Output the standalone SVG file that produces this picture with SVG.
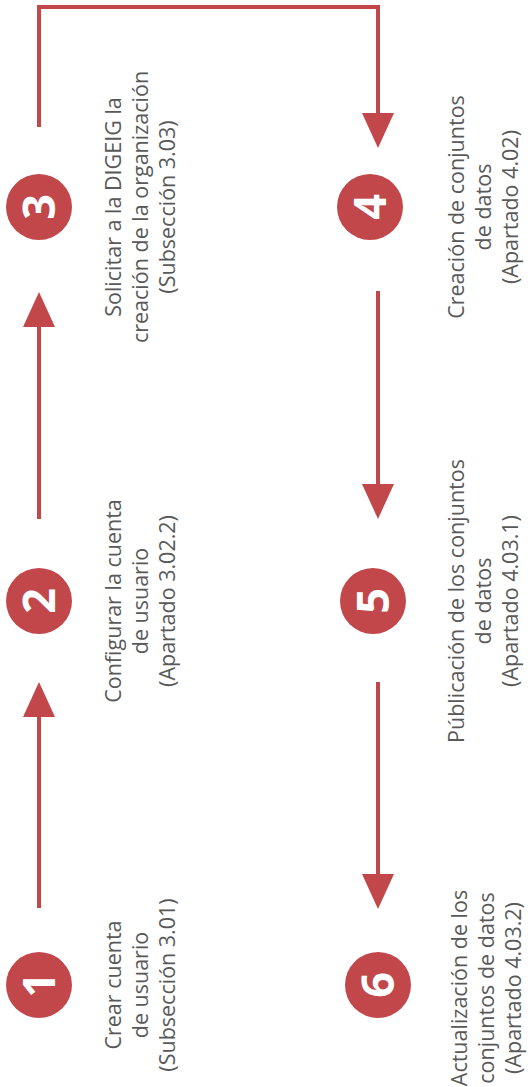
<svg xmlns="http://www.w3.org/2000/svg" width="530" height="1087" viewBox="0 0 530 1087">
<style>
.c{fill:#C1474B}
.d{fill:#fff;font-family:"Open Sans","Liberation Sans",sans-serif;font-weight:700;font-size:45px;text-anchor:middle}
.t{fill:#595959;font-family:"Open Sans","Liberation Sans",sans-serif;font-size:21.5px;text-anchor:middle}
.l{fill:none;stroke:#C1474B;stroke-width:4;stroke-linejoin:miter}
</style>
<defs>
<marker id="ah" markerUnits="userSpaceOnUse" markerWidth="36" markerHeight="32" refX="0" refY="16" orient="auto" overflow="visible">
<path d="M0,0 L35,16 L0,32 Z" fill="#C1474B"/>
</marker>
</defs>
<rect width="530" height="1087" fill="#fff"/>
<g id="connectors">
<path class="l" d="M39,908 V717" marker-end="url(#ah)"/>
<path class="l" d="M39,519 V327" marker-end="url(#ah)"/>
<path class="l" d="M39,127 V7 H378 V113" marker-end="url(#ah)"/>
<path class="l" d="M378,291 V484" marker-end="url(#ah)"/>
<path class="l" d="M378,682 V874" marker-end="url(#ah)"/>
</g>
<g id="n1">
<circle class="c" cx="39" cy="985" r="33"/>
<text class="d" transform="translate(39,985) rotate(-90)" y="16">1</text>
<text class="t" transform="translate(0,985) rotate(-90)"><tspan x="0" y="121">Crear cuenta</tspan><tspan x="0" y="148">de usuario</tspan><tspan x="0" y="175">(Subsección 3.01)</tspan></text>
</g>
<g id="n2">
<circle class="c" cx="39" cy="601" r="33"/>
<text class="d" transform="translate(39,601) rotate(-90)" y="16">2</text>
<text class="t" transform="translate(0,601) rotate(-90)"><tspan x="0" y="121">Configurar la cuenta</tspan><tspan x="0" y="148">de usuario</tspan><tspan x="0" y="175">(Apartado 3.02.2)</tspan></text>
</g>
<g id="n3">
<circle class="c" cx="39" cy="207" r="33"/>
<text class="d" transform="translate(39,207) rotate(-90)" y="16">3</text>
<text class="t" transform="translate(0,207) rotate(-90)"><tspan x="0" y="121">Solicitar a la DIGEIG la</tspan><tspan x="0" y="148">creación de la organización</tspan><tspan x="0" y="175">(Subsección 3.03)</tspan></text>
</g>
<g id="n4">
<circle class="c" cx="370" cy="207" r="33"/>
<text class="d" transform="translate(370,207) rotate(-90)" y="16">4</text>
<text class="t" transform="translate(0,207) rotate(-90)"><tspan x="0" y="464">Creación de conjuntos</tspan><tspan x="0" y="491">de datos</tspan><tspan x="0" y="518">(Apartado 4.02)</tspan></text>
</g>
<g id="n5">
<circle class="c" cx="373" cy="601" r="33"/>
<text class="d" transform="translate(373,601) rotate(-90)" y="16">5</text>
<text class="t" transform="translate(0,601) rotate(-90)"><tspan x="0" y="464">Públicación de los conjuntos</tspan><tspan x="0" y="491">de datos</tspan><tspan x="0" y="518">(Apartado 4.03.1)</tspan></text>
</g>
<g id="n6">
<circle class="c" cx="378" cy="985" r="33"/>
<text class="d" transform="translate(378,985) rotate(-90)" y="16">6</text>
<text class="t" transform="translate(0,988) rotate(-90)"><tspan x="0" y="467">Actualización de los</tspan><tspan x="0" y="494">conjuntos de datos</tspan><tspan x="0" y="521">(Apartado 4.03.2)</tspan></text>
</g>
</svg>
